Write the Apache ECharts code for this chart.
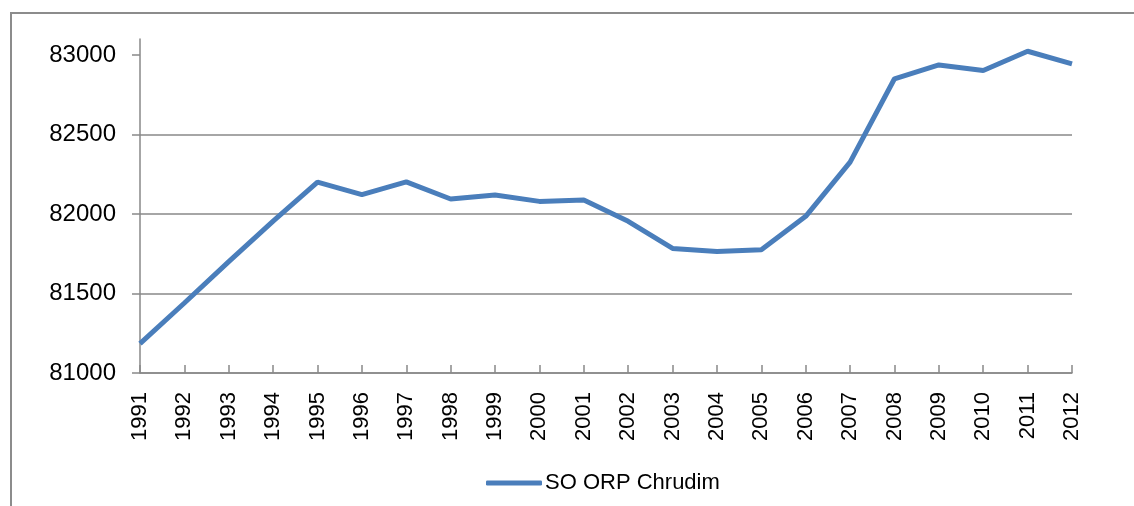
<!DOCTYPE html>
<html>
<head>
<meta charset="utf-8">
<script src="https://cdn.jsdelivr.net/npm/echarts@6/dist/echarts.min.js"></script>
<style>
  html, body { margin: 0; padding: 0; background: #fff; }
  #frame {
    position: absolute; left: 10px; top: 12px; width: 1140px; height: 520px;
    border-left: 2px solid #8c8c8c; border-top: 2px solid #8c8c8c;
  }
  #chart { position: absolute; left: 0; top: 0; width: 1134px; height: 506px; }
</style>
</head>
<body>
<div id="frame"></div>
<div id="chart"></div>
<script>
// years on the category axis
const years = ['1991', '1992', '1993', '1994', '1995', '1996', '1997', '1998', '1999', '2000', '2001',
  '2002', '2003', '2004', '2005', '2006', '2007', '2008', '2009', '2010', '2011', '2012']

// population values
const chrudim = [81185, 81440, 81700, 81955, 82200, 82122, 82202, 82094, 82119, 82079, 82088,
  81954, 81783, 81764, 81775, 81985, 82326, 82850, 82937, 82902, 83023, 82944]

const yTicks = [81000, 81500, 82000, 82500, 83000]
const seriesName = 'SO ORP Chrudim'

const gray = '#898989'
const blue = '#4a7ebb'
const font = 'Liberation Sans'

const myChart = echarts.init(document.getElementById('chart'))

const option = {
  animation: false,
  textStyle: { fontFamily: font },
  grid: { left: 140, right: 62, top: 39, bottom: 133, outerBoundsMode: 'none' },
  legend: {
    left: 481,
    top: 467,
    itemWidth: 56,
    itemHeight: 5,
    itemGap: 10,
    icon: 'roundRect',
    textStyle: { fontFamily: font, fontSize: 22, color: '#000', padding: [0, 0, 0, -2] },
    data: [seriesName]
  },
  xAxis: {
    type: 'category',
    data: years,
    boundaryGap: false,
    axisLine: { lineStyle: { color: gray, width: 1.5 } },
    axisTick: { inside: true, length: 8, lineStyle: { color: gray, width: 1.5 } },
    axisLabel: {
      rotate: 90,
      margin: 19,
      interval: 0,
      fontFamily: font,
      fontSize: 22,
      color: '#000'
    }
  },
  yAxis: {
    type: 'value',
    min: 81000,
    max: 83100,
    interval: 500,
    axisLine: { show: true, lineStyle: { color: gray, width: 1.5 } },
    axisTick: { show: true, length: 8, customValues: yTicks, lineStyle: { color: gray, width: 1.5 } },
    axisLabel: {
      margin: 24,
      customValues: yTicks,
      formatter: v => String(v),
      fontFamily: font,
      fontSize: 24,
      color: '#000'
    },
    splitLine: { showMaxLine: false, lineStyle: { color: gray, width: 1.5 } }
  },
  series: [{
    name: seriesName,
    type: 'line',
    data: chrudim,
    symbol: 'none',
    lineStyle: { color: blue, width: 5 },
    itemStyle: { color: blue }
  }]
}

myChart.setOption(option)
</script>
</body>
</html>
